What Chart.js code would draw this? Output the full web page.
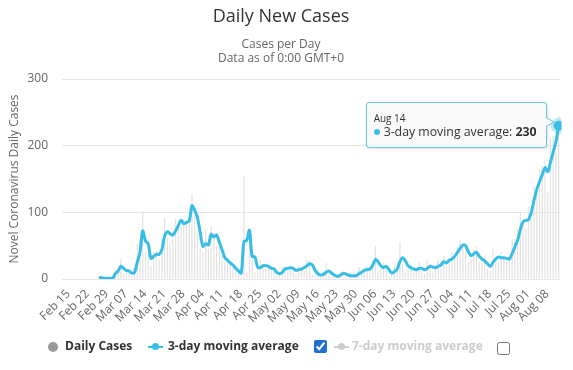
<!DOCTYPE html>
<html><head><meta charset="utf-8">
<script src="https://cdn.jsdelivr.net/npm/chart.js@4.4.1/dist/chart.umd.min.js"></script>
<style>
html,body{margin:0;padding:0;background:#fff;}
body{width:573px;height:370px;position:relative;overflow:hidden;font-family:"Open Sans",sans-serif;}
#c{position:absolute;left:0;top:0;}
.t{position:absolute;white-space:nowrap;}
#title{left:0;width:562px;text-align:center;top:6px;font-size:18px;line-height:18px;color:#333;}
#sub{left:0;width:562px;text-align:center;top:37px;font-size:12px;line-height:14px;color:#666;}
.lg{position:absolute;top:338px;font-size:12px;line-height:16px;font-weight:bold;color:#333;white-space:nowrap;}
.dot{position:absolute;left:48px;top:341.5px;width:10px;height:10px;border-radius:50%;background:#999;}
.mk{position:absolute;width:15px;height:2px;top:345.5px;}
.mk i{position:absolute;left:4px;top:-3px;width:7px;height:7px;border-radius:50%;}
input.cb{position:absolute;margin:0;width:13px;height:13px;accent-color:#1f6fd1;}
#tip{position:absolute;display:none;white-space:nowrap;background:rgba(249,249,249,0.92);border:1px solid #6cc4e3;border-radius:3px;padding:9px 9px 7px 7px;color:#333;box-shadow:1px 1px 3px rgba(0,0,0,0.12);}
#tip .d{font-size:10px;line-height:12px;}
#tip .r{font-size:12.3px;line-height:16px;}
#tip .r span.b{display:inline-block;width:6px;height:6px;border-radius:50%;background:#38bde6;margin-right:4px;vertical-align:1px;}
#tip:after{content:"";position:absolute;right:-9px;top:14px;border-style:solid;border-width:5px 0 5px 9px;border-color:transparent transparent transparent #6cc4e3;}
#tip:before{content:"";position:absolute;right:-7px;top:15px;border-style:solid;border-width:4px 0 4px 7px;border-color:transparent transparent transparent #f9f9f9;z-index:2;}
</style></head><body>
<canvas id="c" width="573" height="370"></canvas>
<div class="t" id="title">Daily New Cases</div>
<div class="t" id="sub">Cases per Day<br>Data as of 0:00 GMT+0</div>
<div class="dot"></div>
<div class="lg" style="left:65px">Daily Cases</div>
<div class="mk" style="left:148px;background:#38bde6"><i style="background:#38bde6"></i></div>
<div class="lg" style="left:168px">3-day moving average</div>
<input class="cb" type="checkbox" checked style="left:314px;top:340px">
<div class="mk" style="left:334px;background:#ccc"><i style="background:#ccc"></i></div>
<div class="lg" style="left:352px;color:#ccc">7-day moving average</div>
<input class="cb" type="checkbox" style="left:497px;top:342px">
<div id="tip"><div class="d" id="tipDate"></div><div class="r"><span class="b"></span><span id="tipName"></span>: <b id="tipVal"></b></div></div>
<script>
// ---- data ----
const startDate = [2020, 1, 15]; // Feb 15, 2020
const dayCount = 182;
const tickLabels = ['Feb 15','Feb 22','Feb 29','Mar 07','Mar 14','Mar 21','Mar 28','Apr 04','Apr 11','Apr 18','Apr 25','May 02','May 09','May 16','May 23','May 30','Jun 06','Jun 13','Jun 20','Jun 27','Jul 04','Jul 11','Jul 18','Jul 25','Aug 01','Aug 08'];
const dailyCases = [
 0,0,0,0,0,0,0,0,0,0,0,0,0,
 3,1,1,1,1,2,14,
 12,30,8,12,15,5,13,52,60,102,
 40,38,20,40,42,30,60,92,62,52,
 70,90,80,78,90,82,88,127,95,70,
 45,40,75,45,80,68,50,48,35,25,
 25,22,18,12,8,10,155,10,60,30,
 10,14,28,18,15,20,12,12,5,8,
 18,20,10,20,15,8,20,18,12,30,
 28,5,6,14,3,4,24,8,4,6,
 3,7,14,3,2,10,3,4,18,9,
 12,20,15,25,50,12,15,25,18,5,
 6,22,18,55,22,10,20,22,10,12,
 25,12,8,28,22,10,20,28,16,35,
 20,30,40,32,48,58,48,52,25,28,
 45,48,25,22,35,15,12,45,30,25,
 40,30,25,35,60,60,75,100,88,75,
 108,90,140,130,165,170,180,130,210,215,
 190,245];
const movingAvg3 = [
 null,null,null,null,null,null,null,null,null,null,null,null,null,
 2,2,1,1,1,1,8,
 12,19,16,13,12,9,10,25,40,72,
 57,53,31,34,37,37,44,64,71,68,
 66,72,80,88,83,85,87,110,103,92,
 70,49,53,51,67,63,66,55,44,32,
 28,24,21,16,12,9,56,58,73,34,
 33,18,17,20,20,19,16,15,10,8,
 10,15,16,17,16,13,14,15,17,20,
 23,21,13,8,6,7,10,12,9,6,
 4,5,8,8,6,5,5,5,8,10,
 13,14,15,20,29,26,20,17,19,14,
 9,11,15,26,32,27,20,17,15,14,
 16,16,14,16,19,18,17,19,21,26,
 24,28,30,34,40,46,51,50,41,35,
 38,40,34,30,27,23,19,25,30,33,
 32,32,31,30,38,48,58,74,86,88,
 89,100,118,134,146,156,167,161,175,190,
 206,230];

const monthNames = ['Jan','Feb','Mar','Apr','May','Jun','Jul','Aug','Sep','Oct','Nov','Dec'];
const categories = [];
for (let i = 0; i < dayCount; i++) {
  const d = new Date(startDate[0], startDate[1], startDate[2] + i);
  categories.push(monthNames[d.getMonth()] + ' ' + String(d.getDate()).padStart(2, '0'));
}

const FONT = '"Open Sans", sans-serif';
const CYAN = '#38bde6';

const chart = new Chart(document.getElementById('c'), {
  type: 'bar',
  data: {
    labels: categories,
    datasets: [
      { type: 'bar', label: 'Daily Cases', data: dailyCases, backgroundColor: '#e2e2e2',
        categoryPercentage: 1, barPercentage: 0.45, order: 2 },
      { type: 'line', label: '3-day moving average', data: movingAvg3, borderColor: CYAN,
        backgroundColor: CYAN, borderWidth: 3, pointRadius: 0, pointHoverRadius: 5,
        pointHoverBackgroundColor: CYAN, pointHoverBorderColor: 'rgba(56,189,230,0.3)',
        pointHoverBorderWidth: 6, tension: 0.35, spanGaps: false, order: 1 }
    ]
  },
  options: {
    responsive: false,
    animation: false,
    devicePixelRatio: 1,
    layout: { padding: { top: 79, right: 13, left: 0, bottom: 0 } },
    events: [],
    plugins: {
      legend: { display: false },
      title: { display: false },
      tooltip: {
        enabled: false,
        filter: (item) => item.datasetIndex === 1,
        external: (ctx) => {
          const tt = ctx.tooltip;
          const el = document.getElementById('tip');
          if (tt.opacity === 0 || !tt.dataPoints || !tt.dataPoints.length) { el.style.display = 'none'; return; }
          const dp = tt.dataPoints[0];
          document.getElementById('tipDate').textContent = dp.label;
          document.getElementById('tipName').textContent = dp.dataset.label;
          document.getElementById('tipVal').textContent = dp.formattedValue;
          el.style.display = 'block';
          const w = el.offsetWidth, h = el.offsetHeight;
          el.style.left = (tt.caretX - 12 - w) + 'px';
          el.style.top = (tt.caretY - h / 2 - 1) + 'px';
        }
      }
    },
    scales: {
      x: {
        grid: { display: false },
        border: { display: false },
        ticks: {
          autoSkip: false, minRotation: 45, maxRotation: 45, color: '#666',
          font: { size: 12, family: FONT }, padding: 0, labelOffset: 5,
          callback: (v, i) => tickLabels.includes(categories[i]) ? categories[i] : null
        },
        afterFit: (s) => { s.height = 91; }
      },
      y: {
        min: 0, max: 300,
        ticks: { stepSize: 100, color: '#666', font: { size: 12, family: FONT }, padding: 14 },
        grid: { color: '#e6e6e6', drawTicks: false },
        border: { display: false },
        title: { display: true, text: 'Novel Coronavirus Daily Cases', color: '#666',
                 font: { size: 12, family: FONT }, padding: { top: 7, bottom: 0 } },
        afterFit: (s) => { s.width = 62; }
      }
    }
  }
});
const activePt = [{ datasetIndex: 1, index: dayCount - 1 }];
chart.setActiveElements(activePt);
chart.tooltip.setActiveElements(activePt, { x: 0, y: 0 });
chart.update();
</script>
</body></html>
